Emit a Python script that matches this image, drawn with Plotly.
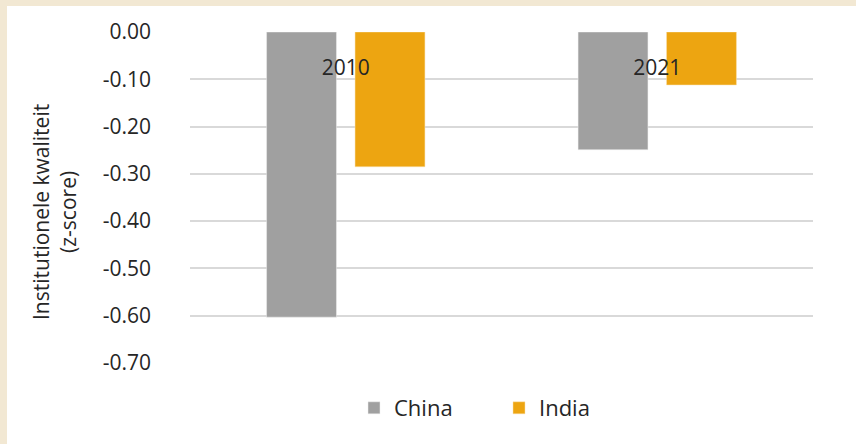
import plotly.graph_objects as go

years = ["2010", "2021"]
china = [-0.603, -0.249]
india = [-0.285, -0.112]
y_ticks = [0.0, -0.1, -0.2, -0.3, -0.4, -0.5, -0.6, -0.7]
y_ticklabels = ["0.00", "-0.10", "-0.20", "-0.30", "-0.40", "-0.50", "-0.60", "-0.70"]
y_title = "Institutionele kwaliteit<br>(z-score)"

FONT = "Open Sans"
TXT = "#262626"
W, H = 856, 444
L, R, T, B = 190, 43, 32, 81
pw, ph = W - L - R, H - T - B

def px_x(p):
    return (p - L) / pw

def px_y(p):
    return (H - B - p) / ph

fig = go.Figure()
fig.add_trace(go.Bar(name="China", x=years, y=china, marker=dict(color="#A0A0A0", line=dict(color="#EEEEEE", width=0.5))))
fig.add_trace(go.Bar(name="India", x=years, y=india, marker=dict(color="#EDA511", line=dict(color="#F8E0B0", width=0.5))))

fig.update_layout(
    width=W, height=H,
    margin=dict(l=L, r=R, t=T, b=B),
    paper_bgcolor="white", plot_bgcolor="white",
    barmode="group", bargap=0.432, bargroupgap=0.21,
    font=dict(family=FONT, size=21, color=TXT),
    showlegend=True,
    legend=dict(orientation="h", x=px_x(499), xanchor="center", y=px_y(408), yanchor="middle",
                entrywidth=100, entrywidthmode="pixels", font=dict(size=22, color=TXT),
                bgcolor="rgba(0,0,0,0)"),
    xaxis=dict(anchor="free", position=1, side="bottom", showgrid=False, zeroline=False,
               showline=False, ticks="", ticklabelstandoff=21, tickfont=dict(size=21, color=TXT)),
    yaxis=dict(range=[-0.7, 0.0], tickvals=y_ticks, ticktext=y_ticklabels, showgrid=True,
               gridcolor="#D9D9D9", gridwidth=1.5, zeroline=False, showline=False, ticks="",
               ticklabelstandoff=38, tickfont=dict(size=21, color=TXT)),
    shapes=[
        dict(type="rect", xref="paper", yref="paper", x0=px_x(-5), x1=px_x(7), y0=px_y(460), y1=px_y(-10),
             fillcolor="#F2E8D3", line=dict(width=0), layer="above"),
        dict(type="rect", xref="paper", yref="paper", x0=px_x(-5), x1=px_x(870), y0=px_y(6), y1=px_y(-10),
             fillcolor="#F2E8D3", line=dict(width=0), layer="above"),
    ],
    annotations=[
        dict(text=y_title, xref="paper", yref="paper", x=px_x(54), y=px_y(212), textangle=-90,
             showarrow=False, xanchor="center", yanchor="middle", font=dict(size=21, color=TXT)),
    ],
)

fig.write_html("out.html", config={"displayModeBar": False},
               post_script="document.body.style.margin='0';document.body.style.overflow='hidden';")
